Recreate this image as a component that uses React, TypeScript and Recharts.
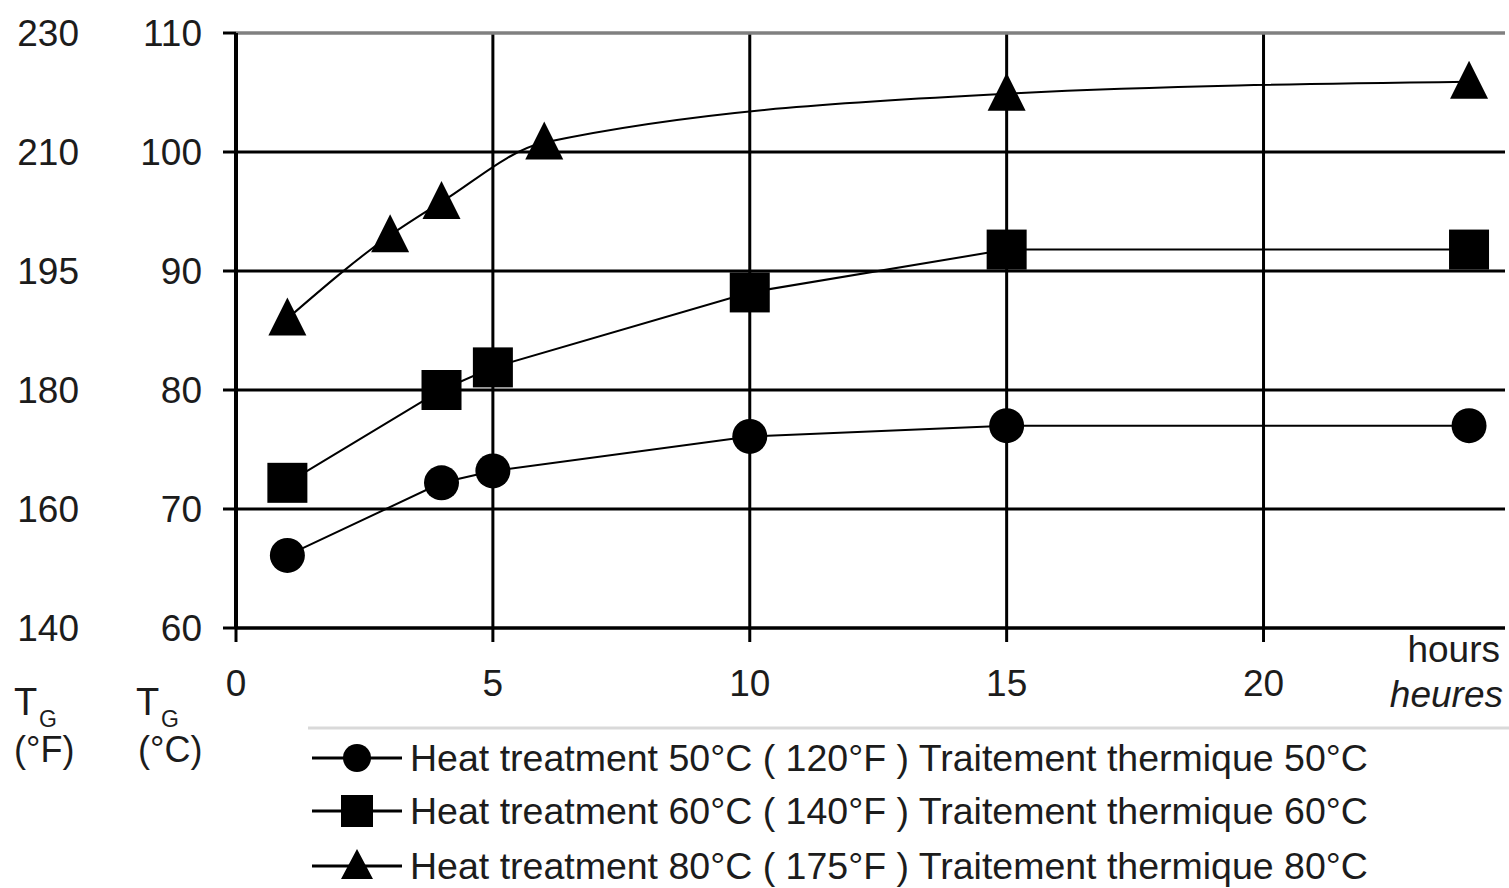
import React from "react";
import { LineChart, Line, XAxis, YAxis, CartesianGrid, ReferenceLine } from "recharts";

// hours of post-cure heat treatment
const hoursA = [1, 4, 5, 10, 15, 24]; // 50°C and 60°C runs
const hoursB = [1, 3, 4, 6, 15, 24]; // 80°C run

// glass transition temperature Tg (°C)
const tg50 = [66.1, 72.2, 73.2, 76.1, 77.0, 77.0];
const tg60 = [72.2, 80.0, 81.9, 88.2, 91.8, 91.8];
const tg80 = [86.0, 93.0, 95.8, 100.8, 104.9, 105.9];

const celsiusTicks = [60, 70, 80, 90, 100, 110];
const fahrenheitLabels = ["140", "160", "180", "195", "210", "230"];
const hourTicks = [0, 5, 10, 15, 20];

const legendLabels = [
  "Heat treatment 50°C ( 120°F ) Traitement thermique 50°C",
  "Heat treatment 60°C ( 140°F ) Traitement thermique 60°C",
  "Heat treatment 80°C ( 175°F ) Traitement thermique 80°C",
];

const FONT = "'Liberation Sans', Arial, sans-serif";
const TXT = "#1c1c1c";

const toRows = (xs: number[], ys: number[]) => xs.map((h, i) => ({ h, tg: ys[i] }));

const CircleDot = (p: any) => <circle key={`c-${p.index}`} cx={p.cx} cy={p.cy} r={17.5} fill="#000" />;
const SquareDot = (p: any) => <rect key={`s-${p.index}`} x={p.cx - 20} y={p.cy - 20} width={40} height={40} fill="#000" />;
const TriangleDot = (p: any) => (
  <polygon
    key={`t-${p.index}`}
    points={`${p.cx},${p.cy - 21} ${p.cx + 19},${p.cy + 17} ${p.cx - 19},${p.cy + 17}`}
    fill="#000"
  />
);

const tickStyle = { fontSize: 37, fill: TXT, fontFamily: FONT };

const Overlay = () => (
  <svg width={1509} height={888} style={{ position: "absolute", left: 0, top: 0, pointerEvents: "none" }}>
    <g fontFamily={FONT} fill={TXT}>
      <text x={14} y={715} fontSize={38}>T</text>
      <text x={39} y={727} fontSize={23}>G</text>
      <text x={14} y={762} fontSize={36}>(°F)</text>
      <text x={136} y={715} fontSize={38}>T</text>
      <text x={161} y={727} fontSize={23}>G</text>
      <text x={138} y={762} fontSize={36}>(°C)</text>
      <text x={1500} y={662} fontSize={37} textAnchor="end">hours</text>
      <text x={1503} y={707} fontSize={37} textAnchor="end" fontStyle="italic">heures</text>
    </g>
    <line x1={308} x2={1509} y1={728} y2={728} stroke="#d9d9d9" strokeWidth={3} />
    {legendLabels.map((label, i) => {
      const y = [758, 811, 866][i];
      return (
        <g key={label}>
          <line x1={312} x2={402} y1={y} y2={y} stroke="#000" strokeWidth={3} />
          {i === 0 && <circle cx={357} cy={y} r={14} fill="#000" />}
          {i === 1 && <rect x={341} y={y - 16} width={32} height={32} fill="#000" />}
          {i === 2 && <polygon points={`357,${y - 17} 373,${y + 13} 341,${y + 13}`} fill="#000" />}
          <text x={410} y={y + 13} fontSize={37.5} fontFamily={FONT} fill={TXT}>
            {label}
          </text>
        </g>
      );
    })}
  </svg>
);

export default function App() {
  return (
    <div style={{ position: "absolute", left: 0, top: 0, width: 1509, height: 888, background: "#fff" }}>
      <LineChart width={1509} height={888} margin={{ top: 33, right: 4, bottom: 200, left: 0 }}>
        <CartesianGrid
          stroke="#000"
          strokeWidth={3}
          horizontalValues={[70, 80, 90, 100]}
          verticalValues={[5, 10, 15, 20]}
          yAxisId="c"
        />
        <XAxis
          type="number"
          dataKey="h"
          domain={[0, 24.7]}
          ticks={hourTicks}
          allowDataOverflow
          height={60}
          tickSize={14}
          tickMargin={28}
          axisLine={{ stroke: "#000", strokeWidth: 3.5 }}
          tickLine={{ stroke: "#000", strokeWidth: 3 }}
          tick={tickStyle}
        />
        <YAxis
          yAxisId="f"
          type="number"
          domain={[60, 110]}
          ticks={celsiusTicks}
          allowDataOverflow
          width={110}
          axisLine={false}
          tickLine={false}
          tickSize={0}
          tickMargin={31}
          tickFormatter={(v: number) => fahrenheitLabels[celsiusTicks.indexOf(v)]}
          tick={tickStyle}
        />
        <YAxis
          yAxisId="c"
          type="number"
          domain={[60, 110]}
          ticks={celsiusTicks}
          allowDataOverflow
          width={126}
          tickSize={13}
          tickMargin={21}
          axisLine={{ stroke: "#000", strokeWidth: 4 }}
          tickLine={{ stroke: "#000", strokeWidth: 3 }}
          tick={tickStyle}
        />
        <ReferenceLine yAxisId="c" y={110} stroke="#808080" strokeWidth={3.5} />
        <Line
          yAxisId="c"
          data={toRows(hoursA, tg50)}
          dataKey="tg"
          type="linear"
          stroke="#000"
          strokeWidth={2}
          dot={CircleDot}
          isAnimationActive={false}
        />
        <Line
          yAxisId="c"
          data={toRows(hoursA, tg60)}
          dataKey="tg"
          type="linear"
          stroke="#000"
          strokeWidth={2}
          dot={SquareDot}
          isAnimationActive={false}
        />
        <Line
          yAxisId="c"
          data={toRows(hoursB, tg80)}
          dataKey="tg"
          type="monotone"
          stroke="#000"
          strokeWidth={2}
          dot={TriangleDot}
          isAnimationActive={false}
        />
      </LineChart>
      <Overlay />
    </div>
  );
}
